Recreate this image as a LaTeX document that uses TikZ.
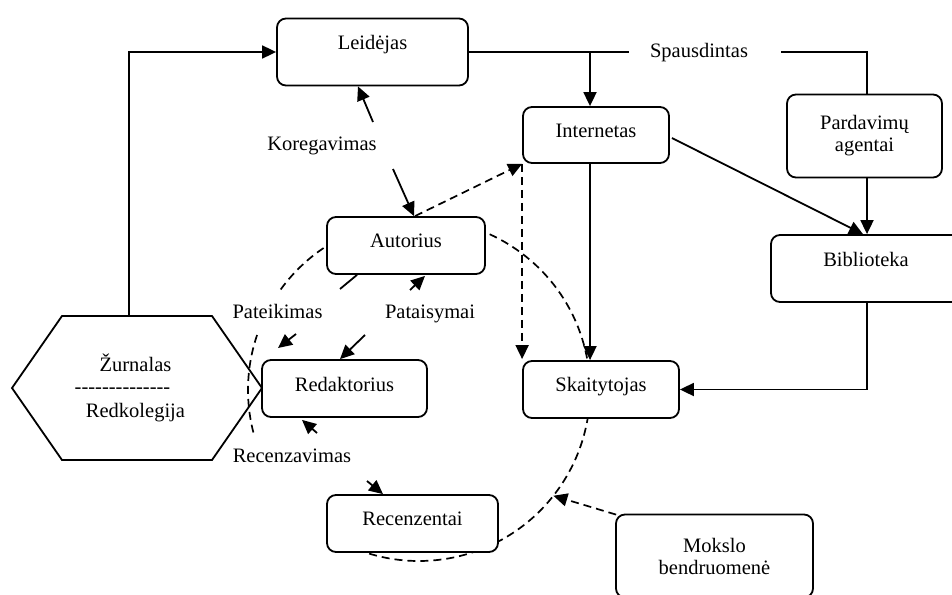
\documentclass[tikz,border=0pt]{standalone}
\usepackage{fontspec}
\setmainfont{Liberation Serif}
\usetikzlibrary{arrows.meta,calc}
\newcommand{\hy}{\mbox{-}}
\begin{document}
\begin{tikzpicture}[x=1pt,y=-1pt,
  font=\fontsize{20.5pt}{22pt}\selectfont,
  box/.style={draw, line width=1.8pt, rounded corners=9pt, fill=white, inner xsep=0pt, inner ysep=0pt},
  plain/.style={line width=1.8pt},
  arr/.style={line width=1.8pt, -{Triangle[length=14pt,width=13pt]}},
  dline/.style={line width=1.7pt, dash pattern=on 8pt off 5pt},
  darr/.style={dline, -{Triangle[length=14pt,width=13pt]}},
  lbl/.style={anchor=base, inner sep=0pt}]
\useasboundingbox (0,0) rectangle (952,594);
\clip (0,0) rectangle (952,594);
\fill[white] (0,0) rectangle (952,594);

% hexagon
\draw[plain, fill=white] (12,388) -- (62,316) -- (212,316) -- (262,388) -- (212,460) -- (62,460) -- cycle;
\node[lbl] (zur) at (135.5,371) {Žurnalas};
\node[lbl] (zdash) at (122.5,393) {\hy\hy\hy\hy\hy\hy\hy\hy\hy\hy\hy\hy\hy\hy};
\node[lbl] (redk) at (135.5,417) {Redkolegija};

% dashed circle
\coordinate (C) at (419,390);
\draw[dline] ($(C)+(216:171)$) arc[start angle=216, end angle=482.4, radius=171];
\draw[dline] ($(C)+(165.6:171)$) arc[start angle=165.6, end angle=199, radius=171];

% boxes
\node[box, minimum width=191pt, text height=31.5pt, text depth=35.5pt] (leid) at (372.5,52) {Leidėjas};
\node[box, minimum width=146pt, text height=30pt, text depth=26pt] (inet) at (596,135) {Internetas};
\node[box, minimum width=155pt, minimum height=83pt, align=center] (pard) at (864.5,136) {Pardavimų\\agentai};
\node[box, minimum width=190pt, text height=31pt, text depth=36pt] (bib) at (866,268.5) {Biblioteka};
\node[box, minimum width=158pt, text height=30pt, text depth=27pt] (aut) at (406,245.5) {Autorius};
\node[box, minimum width=156pt, text height=30pt, text depth=27pt] (skait) at (601,389.5) {Skaitytojas};
\node[box, minimum width=165pt, text height=31pt, text depth=26pt] (red) at (344.5,388.5) {Redaktorius};
\node[box, minimum width=171pt, text height=30pt, text depth=27pt] (rec) at (412.5,523.5) {Recenzentai};
\node[box, minimum width=197pt, minimum height=83pt, align=center] (mok) at (714.5,556) {Mokslo\\bendruomenė};

% labels
\node[lbl] (spaus) at (699,57) {Spausdintas};
\node[lbl] (kor) at (322,150) {Koregavimas};
\node[lbl] (pat) at (277.5,318) {Pateikimas};
\node[lbl] (pats) at (430,318) {Pataisymai};
\node[lbl] (recz) at (292,462) {Recenzavimas};

% free ends
\coordinate (hx) at (129,316);
\coordinate (sx) at (590,0);
\coordinate (s1) at (629,52);
\coordinate (s2) at (781,52);
\coordinate (k1) at (373,122);
\coordinate (k2) at (393,169);
\coordinate (p1) at (340,289);
\coordinate (p2) at (296,334);
\coordinate (p3) at (278,348);
\coordinate (t1) at (365,335);
\coordinate (t2) at (410,290);
\coordinate (r1) at (317,433);
\coordinate (r2) at (367,481);
\coordinate (circM) at ($(C)+(38.2:171)$);

% connectors
\draw[arr] (hx) |- (leid.west);
\draw[plain] (leid.east) -- (s1);
\draw[plain] (s2) -| ($(pard.north)+(2.5,0)$);
\draw[arr] (sx |- leid.east) -- (sx |- inet.north);
\draw[arr] (sx |- inet.south) -- (sx |- skait.north);
\draw[arr] ($(inet.east)+(2,3)$) -- ($(bib.north)+(-3,0)$);
\draw[arr] ($(pard.south)+(2.5,0)$) -- ($(bib.north)+(1,0)$);
\draw[arr] ($(bib.south)+(1,0)$) |- (skait.east);

\draw[arr] (k1) -- ($(leid.south)+(-14.5,0)$);
\draw[arr] (k2) -- ($(aut.north)+(8,0)$);
\draw[darr] ($(aut.north)+(9,0)$) -- (inet.south west);
\draw[darr] (inet.south west) -- ($(inet.south west |- skait.north)+(0,-1)$);

\draw[plain] ($(aut.south)+(-49,0)$) -- (p1);
\draw[arr] (p2) -- (p3);
\draw[arr] (t1) -- ($(red.north)+(-4.5,0)$);
\draw[arr] (t2) -- ($(aut.south)+(19,1)$);
\draw[arr] (r1) -- ($(red.south)+(-42.5,2)$);
\draw[arr] (r2) -- ($(rec.north)+(-29.5,0)$);
\draw[darr] ($(mok.north west)+(1,1)$) -- (circM);
\end{tikzpicture}
\end{document}
